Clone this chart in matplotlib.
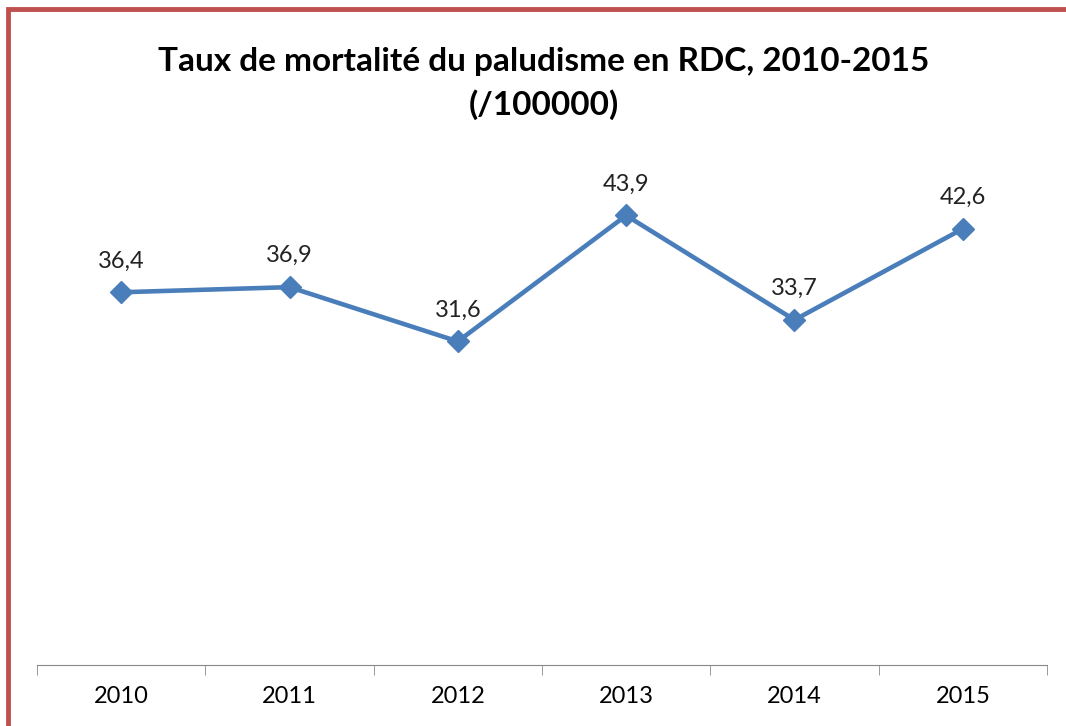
import matplotlib.pyplot as plt
from matplotlib.patches import Rectangle

years = ['2010', '2011', '2012', '2013', '2014', '2015']
rates = [36.4, 36.9, 31.6, 43.9, 33.7, 42.6]
labels = ['36,4', '36,9', '31,6', '43,9', '33,7', '42,6']

plt.rcParams['font.family'] = ['Lato', 'DejaVu Sans']

fig = plt.figure(figsize=(10.66, 7.26), dpi=100)
ax = fig.add_axes([37 / 1066, 61 / 726, 1010 / 1066, 512 / 726])

x = range(len(years))
ax.plot(x, rates, color='#4A7EBB', lw=3.3, marker='D', ms=11.5, mec='#4A7EBB', mfc='#4A7EBB')
for i, (v, t) in enumerate(zip(rates, labels)):
    ax.annotate(t, (i, v), xytext=(0, 15), textcoords='offset points',
                ha='center', va='bottom', fontsize=17, color='#222222')

ax.set_xlim(-0.5, len(years) - 0.5)
ax.set_ylim(0, 50)
ax.set_yticks([])
ax.set_xticks(x)
ax.set_xticklabels(years, fontsize=17)
ax.set_xticks([i - 0.5 for i in range(len(years) + 1)], minor=True)
ax.tick_params(axis='x', which='major', length=0, pad=15)
ax.tick_params(axis='x', which='minor', length=7, color='#888888', direction='out')
for s in ['left', 'right', 'top']:
    ax.spines[s].set_visible(False)
ax.spines['bottom'].set_color('#888888')

fig.text(0.51, 1 - 62 / 726, 'Taux de mortalité du paludisme en RDC, 2010-2015',
         ha='center', va='center', fontsize=24, fontweight='bold')
fig.text(0.51, 1 - 105 / 726, '(/100000)', ha='center', va='center',
         fontsize=24, fontweight='bold')

# red frame, left and top edges visible
fig.patches.append(Rectangle((8 / 1066, -0.1), 1.2, 1 - 9 / 726 + 0.1,
                             transform=fig.transFigure, fill=False,
                             ec='#C0504D', lw=3.5))

fig.savefig('out.png', dpi=100)
